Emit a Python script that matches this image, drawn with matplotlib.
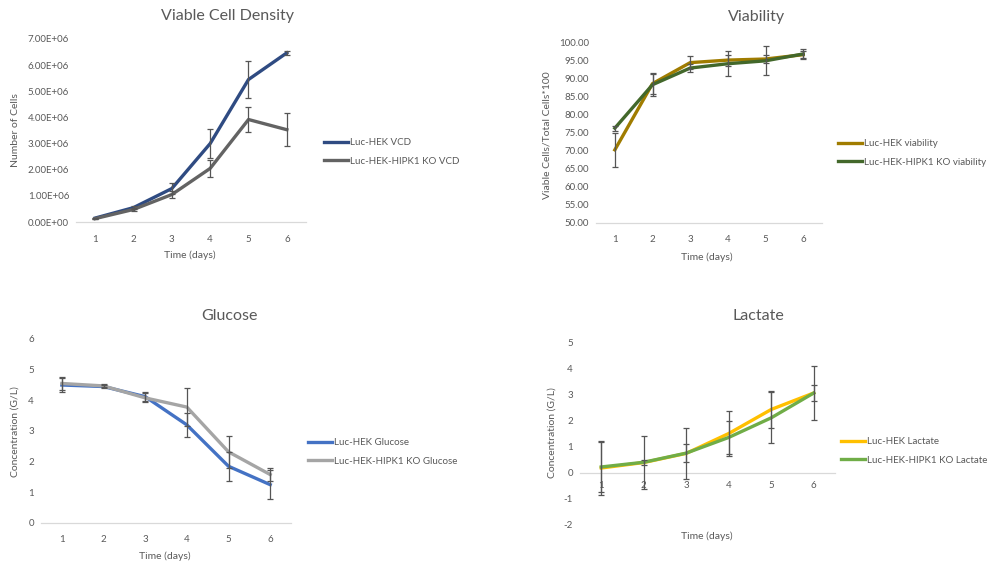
import numpy as np
import matplotlib
matplotlib.use("Agg")
import matplotlib.pyplot as plt

plt.rcParams['font.family'] = ['Lato', 'DejaVu Sans']

# data
days = [1, 2, 3, 4, 5, 6]

vcd_luc = [0.15e6, 0.55e6, 1.28e6, 3.0e6, 5.45e6, 6.47e6]
vcd_luc_err = [0.02e6, 0.07e6, 0.22e6, 0.55e6, 0.7e6, 0.07e6]
vcd_ko = [0.13e6, 0.48e6, 1.05e6, 2.05e6, 3.92e6, 3.53e6]
vcd_ko_err = [0.02e6, 0.05e6, 0.12e6, 0.31e6, 0.47e6, 0.63e6]

via_luc = [70.2, 88.5, 94.3, 95.0, 95.3, 96.5]
via_luc_err = [4.7, 3.0, 1.7, 1.5, 1.0, 1.0]
via_ko = [76.2, 88.2, 92.8, 94.0, 94.8, 96.7]
via_ko_err = [0.7, 3.0, 1.2, 3.4, 4.0, 1.5]

glu_luc = [4.50, 4.45, 4.12, 3.20, 1.85, 1.25]
glu_luc_err = [0.22, 0.05, 0.15, 0.40, 0.48, 0.48]
glu_ko = [4.55, 4.47, 4.08, 3.78, 2.32, 1.58]
glu_ko_err = [0.2, 0.05, 0.15, 0.63, 0.52, 0.2]

lac_luc = [0.18, 0.39, 0.74, 1.50, 2.42, 3.05]
lac_luc_err = [1.02, 1.0, 0.98, 0.85, 0.70, 1.02]
lac_ko = [0.22, 0.40, 0.75, 1.35, 2.10, 3.05]
lac_ko_err = [0.95, 0.10, 0.33, 0.62, 0.98, 0.30]

W, H = 988, 566
txt = '#595959'
errc = '#555555'

fig = plt.figure(figsize=(W / 100, H / 100), dpi=100)
fig.patch.set_facecolor('white')


def px_axes(x0, x1, ytop, ybot):
    return fig.add_axes([x0 / W, (H - ybot) / H, (x1 - x0) / W, (ybot - ytop) / H])


def style(ax, ylim, yticks, fmt):
    ax.set_xlim(0.5, 6.5)
    ax.set_ylim(*ylim)
    ax.set_xticks(days)
    ax.set_yticks(yticks)
    ax.set_yticklabels([fmt(v) for v in yticks])
    for s in ['top', 'right', 'left']:
        ax.spines[s].set_visible(False)
    ax.spines['bottom'].set_color('#d9d9d9')
    ax.spines['bottom'].set_linewidth(0.9)
    ax.tick_params(length=0, labelsize=7, colors=txt, pad=5)
    ax.tick_params(axis='x', pad=9)
    ax.set_facecolor('none')


def draw(ax, y1, e1, c1, l1, y2, e2, c2, l2, leg_x, leg_y):
    h1 = ax.plot(days, y1, color=c1, lw=2.4, label=l1, zorder=3)[0]
    h2 = ax.plot(days, y2, color=c2, lw=2.4, label=l2, zorder=3)[0]
    ax.errorbar(days, y1, yerr=e1, fmt='none', ecolor=errc, elinewidth=0.9, capsize=2.5, capthick=0.9, zorder=4)
    ax.errorbar(days, y2, yerr=e2, fmt='none', ecolor=errc, elinewidth=0.9, capsize=2.5, capthick=0.9, zorder=4)
    ax.legend([h1, h2], [l1, l2], loc='center left', bbox_to_anchor=(leg_x / W, (H - leg_y) / H),
              bbox_transform=fig.transFigure, frameon=False, fontsize=7, handlelength=2.5,
              handletextpad=0.2, labelspacing=1.0, borderpad=0, borderaxespad=0, labelcolor=txt)


def labels(title, tx, ty, ylab, yx, yy, xx, xy):
    fig.text(tx / W, 1 - ty / H, title, ha='center', va='center', fontsize=11.5, color=txt)
    fig.text(yx / W, 1 - yy / H, ylab, ha='center', va='center', rotation=90, fontsize=7.5, color=txt)
    fig.text(xx / W, 1 - xy / H, 'Time (days)', ha='center', va='center', fontsize=7.5, color=txt)


# Viable cell density
ax1 = px_axes(76, 306, 39, 222)
style(ax1, (0, 7e6), [i * 1e6 for i in range(8)], lambda v: '%.2fE+%02d' % (v / 1e6, 6) if v > 0 else '0.00E+00')
draw(ax1, vcd_luc, vcd_luc_err, '#2f4b82', 'Luc-HEK VCD',
     vcd_ko, vcd_ko_err, '#636363', 'Luc-HEK-HIPK1 KO VCD', 324, 152)
labels('Viable Cell Density', 227, 16, 'Number of Cells', 15, 130, 190, 255)

# Viability
ax2 = px_axes(596, 822, 42, 223)
style(ax2, (50, 100), list(range(50, 101, 5)), lambda v: '%.2f' % v)
draw(ax2, via_luc, via_luc_err, '#a07c00', 'Luc-HEK viability',
     via_ko, via_ko_err, '#43682b', 'Luc-HEK-HIPK1 KO viability', 838, 153)
labels('Viability', 757, 17, 'Viable Cells/Total Cells*100', 547, 135, 707, 257)

# Glucose
ax3 = px_axes(41, 291, 339, 523)
style(ax3, (0, 6), list(range(0, 7)), lambda v: '%d' % v)
draw(ax3, glu_luc, glu_luc_err, '#4472c4', 'Luc-HEK Glucose',
     glu_ko, glu_ko_err, '#a5a5a5', 'Luc-HEK-HIPK1 KO Glucose', 308, 452)
labels('Glucose', 229, 316, 'Concentration (G/L)', 15, 432, 165, 556)

# Lactate
ax4 = px_axes(580, 835, 342, 525)
style(ax4, (-2, 5), list(range(-2, 6)), lambda v: '%d' % v)
ax4.spines['bottom'].set_position(('data', 0))
ax4.tick_params(axis='x', pad=6)
draw(ax4, lac_luc, lac_luc_err, '#ffc000', 'Luc-HEK Lactate',
     lac_ko, lac_ko_err, '#70ad47', 'Luc-HEK-HIPK1 KO Lactate', 841, 451)
labels('Lactate', 758, 316, 'Concentration (G/L)', 552, 433, 707, 536)

fig.savefig('out.png', dpi=100, facecolor='white')
